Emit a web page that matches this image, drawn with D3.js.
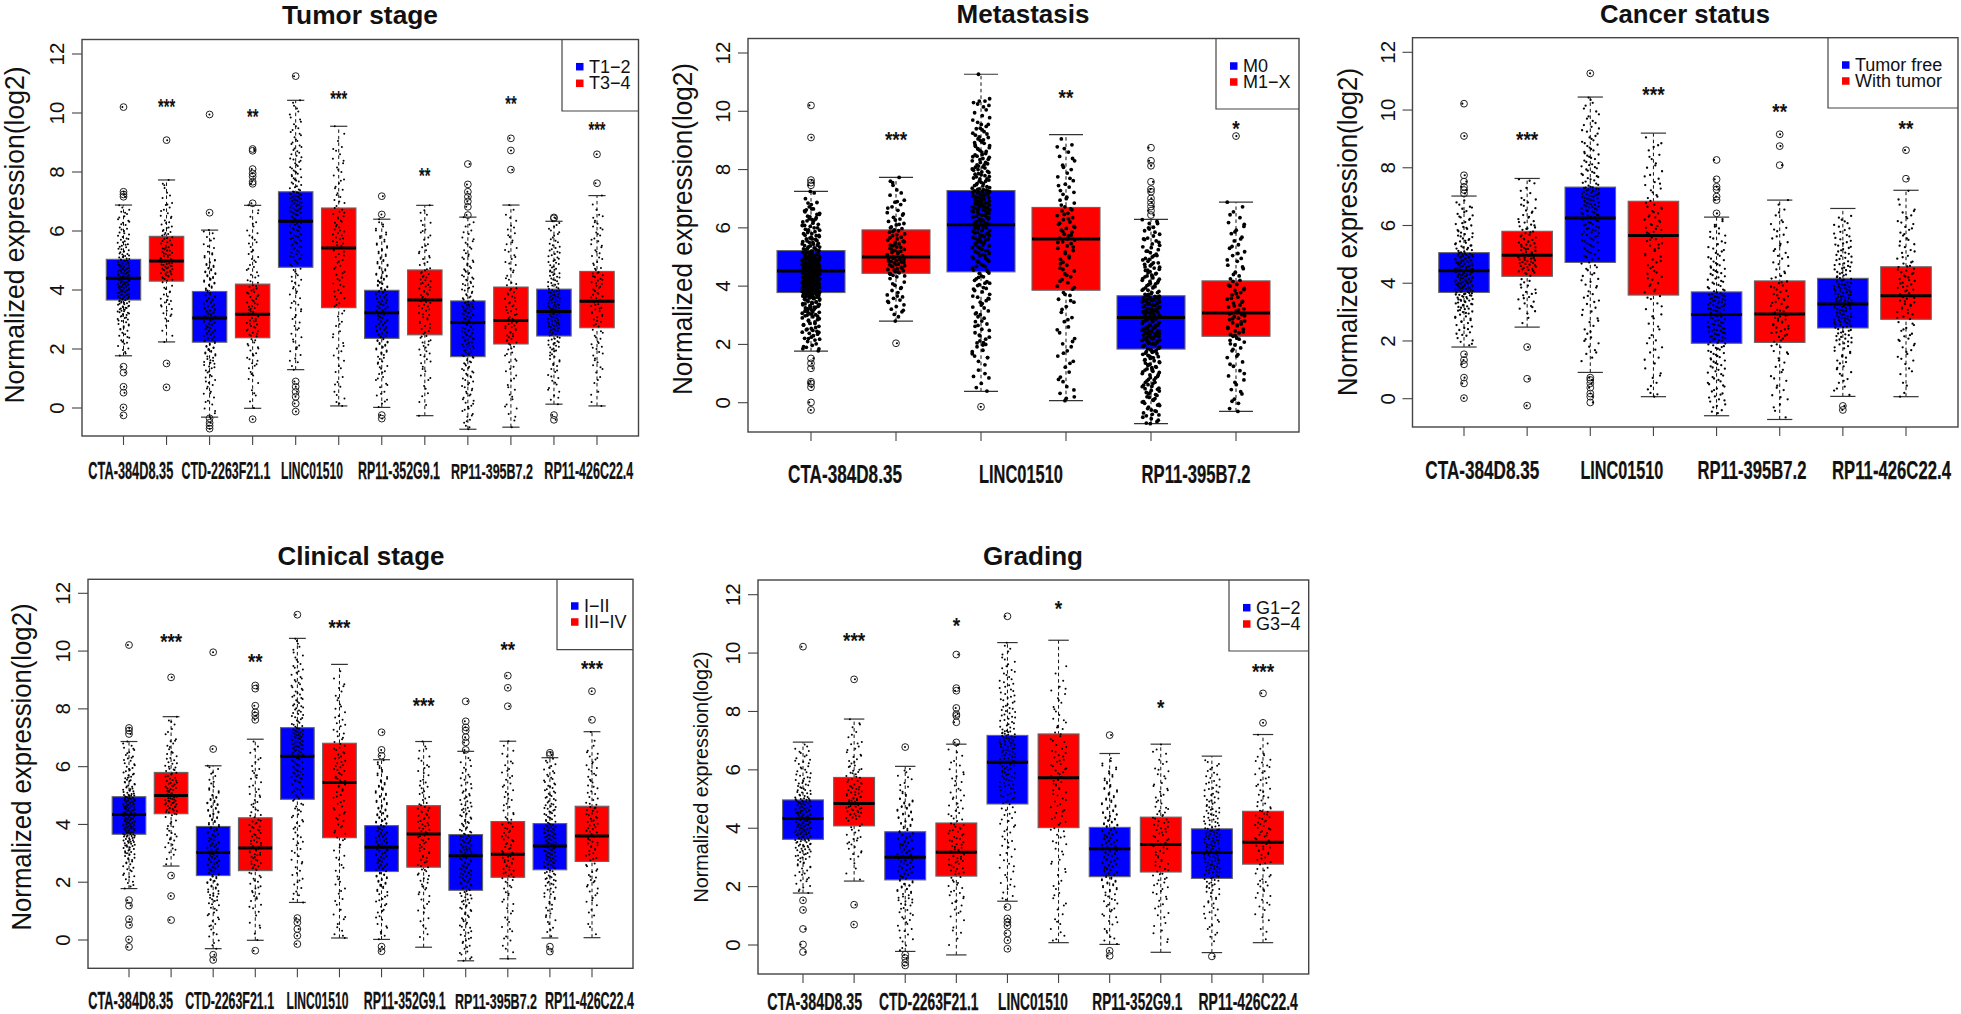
<!DOCTYPE html>
<html><head><meta charset="utf-8">
<script src="https://cdn.jsdelivr.net/npm/d3@7"></script>
<style>html,body{margin:0;padding:0;background:#fff}svg{display:block}text{font-family:"Liberation Sans",Arial,sans-serif;fill:#111}</style>
</head><body><svg id="c" width="1961" height="1014"></svg>
<script>
// ---------- data ----------
const geneCTA="CTA-384D8.35",geneCTD="CTD-2263F21.1",geneLINC="LINC01510",gene352="RP11-352G9.1",gene395="RP11-395B7.2",gene426="RP11-426C22.4";
const yTicks=[0,2,4,6,8,10,12];
const yTitle="Normalized expression(log2)";

// box rows: [lower whisker, Q1, median, Q3, upper whisker]
const tumorBoxes=[[1.77,3.66,4.4,5.04,6.88],[2.24,4.3,4.98,5.82,7.73],[-.31,2.23,3.05,3.95,6.03],[-.01,2.38,3.18,4.2,6.87],[1.3,4.77,6.33,7.33,10.43],[.07,3.4,5.42,6.78,9.55],[.02,2.36,3.23,3.99,6.4],[-.26,2.48,3.66,4.68,6.87],[-.72,1.74,2.9,3.63,6.47],[-.65,2.17,2.97,4.1,6.88],[.13,2.44,3.27,4.03,6.33],[.07,2.72,3.62,4.63,7.2]];
const metastasisBoxes=[[1.77,3.78,4.52,5.22,7.25],[2.8,4.44,5.0,5.93,7.73],[.39,4.49,6.11,7.28,11.27],[.07,3.86,5.62,6.7,9.2],[-.72,1.84,2.92,3.67,6.29],[-.3,2.28,3.08,4.18,6.88]];
const cancerBoxes=[[1.79,3.68,4.43,5.06,7.02],[2.48,4.24,4.97,5.8,7.63],[.91,4.72,6.26,7.33,10.45],[.07,3.59,5.65,6.84,9.2],[-.59,1.92,2.92,3.7,6.29],[-.72,1.95,2.93,4.08,6.88],[.08,2.45,3.28,4.17,6.59],[.07,2.75,3.57,4.57,7.22]];
const clinicalBoxes=[[1.78,3.66,4.34,4.96,6.87],[2.56,4.37,5.0,5.8,7.73],[-.3,2.23,3.03,3.93,6.03],[-.01,2.4,3.18,4.23,6.95],[1.3,4.87,6.36,7.35,10.44],[.07,3.54,5.45,6.81,9.54],[.02,2.37,3.21,3.96,6.24],[-.25,2.52,3.67,4.65,6.87],[-.72,1.72,2.92,3.65,6.53],[-.65,2.17,2.97,4.1,6.88],[.07,2.43,3.25,4.03,6.31],[.08,2.72,3.6,4.63,7.21]];
const gradingBoxes=[[1.78,3.62,4.33,4.97,6.95],[2.19,4.08,4.85,5.74,7.74],[-.22,2.23,3.01,3.88,6.12],[-.34,2.36,3.18,4.18,6.88],[1.5,4.83,6.26,7.18,10.36],[.08,4.02,5.73,7.23,10.44],[.02,2.34,3.3,4.03,6.56],[-.25,2.5,3.44,4.38,6.88],[-.26,2.28,3.17,3.98,6.47],[.08,2.77,3.52,4.58,7.21]];

// open-circle outliers per box
const tumorOutliers=[[10.2,7.33,7.24,7.16,1.4,1.2,.72,.52,.02,-.25],[9.08,1.51,.7],[9.95,6.62,-.35,-.5,-.6,-.7],[8.78,8.72,8.1,7.95,7.85,7.67,7.6,6.94,-.38],[11.25,.9,.72,.55,.38,.15,-.12],[],[7.18,6.56,-.24,-.36],[],[8.27,7.58,7.33,7.16,7,6.82,6.54],[9.14,8.73,8.08],[6.46,6.43,-.24,-.4],[8.6,7.62]];
const metastasisOutliers=[[10.2,9.1,7.64,7.55,7.46,1.52,1.35,1.18,.72,.66,.53,.01,-.25],[2.04],[-.14],[],[8.75,8.3,8.13,7.58,7.33,7.24,7.01,6.87,6.73,6.59,6.44],[9.15]];
const cancerOutliers=[[10.22,9.1,7.74,7.52,7.34,7.23,7.11,1.54,1.34,1.19,.73,.53,.02],[1.79,.69,-.24],[11.27,.73,.65,.53,.38,.18,.07,-.13],[],[8.27,7.6,7.34,7.25,7,6.88,6.42],[9.16,8.75,8.09],[-.25,-.39],[8.61,7.62]];
const clinicalOutliers=[[10.21,7.34,7.25,7.13,1.38,1.19,.72,.52,.02,-.24],[9.09,2.23,1.52,.69],[9.96,6.61,-.51,-.69],[8.81,8.7,8.11,7.88,7.77,7.62,-.37],[11.26,.76,.61,.38,.15,-.14],[],[7.19,6.58,6.38,-.23,-.39],[],[8.26,7.57,7.36,7.25,7.02,6.84,6.58],[9.15,8.73,8.09],[6.48,6.41,-.23,-.4],[8.61,7.62]];
const gradingOutliers=[[10.22,1.53,1.2,.55,.02,-.24],[9.1,1.38,.7],[6.78,-.33,-.45,-.6,-.7],[9.95,8.8,8.71,8.12,7.91,7.85,7.63,6.94],[11.26,1.3,.91,.78,.66,.4,.16,-.13],[],[7.19,-.2,-.37],[],[-.39],[8.62,7.61]];

// significance stars: [text, height on the value axis]
const tumorStars=[["***",10.38],["**",10.02],["***",10.64],["**",8.03],["**",10.49],["***",9.59]];
const metastasisStars=[["***",9.19],["**",10.62],["*",9.57]];
const cancerStars=[["***",9.13],["***",10.69],["**",10.09],["**",9.5]];
const clinicalStars=[["***",10.48],["**",9.81],["***",10.97],["***",8.27],["**",10.21],["***",9.55]];
const gradingStars=[["***",10.6],["*",11.1],["*",11.68],["*",8.3],["***",9.53]];

// jittered sample points per gene and group
const ptsCTAlow=[1.78,1.85,1.97,2.02,2.1,2.18,2.21,2.3,2.38,2.45,2.5,2.55,2.62,2.68,2.72,2.8,2.85,2.91,2.95,3.0,3.02,3.05,3.1,3.15,3.18,3.2,3.25,3.28,3.3,3.35,3.4,3.42,3.45,3.5,3.52,3.55,3.58,3.6,3.62,3.65,3.68,3.7,3.72,3.75,3.78,3.8,3.82,3.85,3.88,3.9,3.92,3.95,3.98,4.0,4.02,4.05,4.08,4.1,4.12,4.15,4.18,4.2,4.22,4.25,4.28,4.3,4.32,4.35,4.38,4.4,4.42,4.45,4.48,4.5,4.52,4.55,4.58,4.6,4.62,4.65,4.68,4.7,4.72,4.75,4.78,4.8,4.82,4.85,4.88,4.9,4.92,4.95,4.98,5.0,5.02,5.05,5.1,5.15,5.2,5.22,5.28,5.3,5.35,5.4,5.45,5.5,5.55,5.6,5.65,5.7,5.75,5.8,5.88,5.95,6.0,6.05,6.12,6.2,6.28,6.35,6.4,6.5,6.58,6.65,6.72,6.87];
const ptsCTAhigh=[2.24,2.45,2.62,2.95,3.03,3.12,3.21,3.3,3.36,3.44,3.52,3.58,3.63,3.7,3.78,3.85,3.92,4.03,4.14,4.26,4.32,4.37,4.41,4.46,4.5,4.53,4.57,4.6,4.64,4.67,4.7,4.73,4.76,4.79,4.82,4.85,4.88,4.91,4.94,4.97,5.0,5.04,5.08,5.12,5.15,5.19,5.22,5.26,5.3,5.34,5.38,5.41,5.45,5.5,5.54,5.58,5.62,5.68,5.73,5.79,5.85,5.9,5.93,5.97,6.03,6.1,6.15,6.22,6.3,6.36,6.44,6.52,6.6,6.72,6.8,6.88,6.95,7.12,7.3,7.46,7.6,7.73];
const ptsCTDlow=[-.3,-.18,-.02,.12,.25,.36,.48,.55,.66,.78,.86,.95,1.03,1.12,1.2,1.27,1.35,1.41,1.5,1.56,1.62,1.7,1.75,1.82,1.88,1.93,2.0,2.05,2.1,2.18,2.25,2.29,2.33,2.38,2.42,2.45,2.5,2.53,2.58,2.61,2.65,2.68,2.72,2.75,2.8,2.83,2.87,2.9,2.94,2.98,3.03,3.06,3.1,3.13,3.17,3.2,3.24,3.28,3.31,3.35,3.4,3.43,3.47,3.5,3.55,3.6,3.64,3.68,3.73,3.78,3.83,3.9,3.98,4.05,4.12,4.18,4.25,4.32,4.38,4.44,4.5,4.57,4.63,4.7,4.75,4.82,4.88,4.95,5.02,5.1,5.2,5.3,5.42,5.55,5.68,5.8,5.92,6.03];
const ptsCTDhigh=[0,.22,.42,.6,.85,.98,1.1,1.22,1.35,1.43,1.52,1.6,1.7,1.78,1.86,1.95,2.02,2.12,2.22,2.33,2.42,2.48,2.55,2.6,2.66,2.72,2.78,2.83,2.88,2.93,2.97,3.02,3.06,3.12,3.16,3.22,3.28,3.33,3.39,3.45,3.52,3.58,3.63,3.7,3.76,3.82,3.88,3.93,3.98,4.05,4.1,4.16,4.25,4.33,4.42,4.52,4.6,4.68,4.78,4.85,4.95,5.05,5.12,5.22,5.35,5.46,5.58,5.7,5.78,5.92,6.02,6.15,6.3,6.48,6.7,6.87];
const ptsLINClow=[1.3,1.42,1.55,1.68,1.8,1.92,2.0,2.12,2.25,2.4,2.52,2.65,2.78,2.9,3.02,3.15,3.28,3.4,3.5,3.62,3.72,3.85,3.95,4.05,4.15,4.25,4.35,4.45,4.55,4.68,4.82,4.9,5.0,5.08,5.15,5.22,5.3,5.38,5.45,5.5,5.58,5.64,5.7,5.76,5.82,5.88,5.93,6.0,6.05,6.12,6.18,6.25,6.3,6.36,6.4,6.45,6.5,6.55,6.6,6.64,6.68,6.72,6.76,6.8,6.85,6.88,6.92,6.96,7.0,7.03,7.07,7.1,7.14,7.18,7.22,7.25,7.29,7.32,7.38,7.45,7.52,7.6,7.68,7.75,7.82,7.9,7.98,8.05,8.12,8.2,8.3,8.38,8.46,8.55,8.65,8.75,8.85,8.95,9.05,9.18,9.3,9.42,9.55,9.7,9.85,10.05,10.25,10.43];
const ptsLINChigh=[.07,.2,.32,.55,.72,.88,1.05,1.22,1.42,1.6,1.78,1.92,2.02,2.2,2.4,2.6,2.78,2.92,3.1,3.3,3.45,3.55,3.68,3.78,3.9,4.0,4.12,4.22,4.32,4.42,4.52,4.62,4.72,4.82,4.92,5.02,5.12,5.22,5.3,5.38,5.46,5.52,5.58,5.65,5.72,5.78,5.85,5.92,5.98,6.05,6.12,6.2,6.28,6.35,6.42,6.5,6.58,6.65,6.72,6.85,6.95,7.05,7.15,7.28,7.4,7.5,7.62,7.75,7.88,8.0,8.15,8.3,8.45,8.6,8.72,8.85,9.05,9.3,9.55];
const pts352low=[.03,.15,.28,.42,.55,.7,.82,.95,1.05,1.15,1.25,1.33,1.42,1.5,1.58,1.66,1.74,1.8,1.88,1.95,2.02,2.08,2.14,2.2,2.25,2.3,2.38,2.42,2.46,2.5,2.54,2.58,2.62,2.66,2.7,2.74,2.78,2.82,2.86,2.9,2.94,2.98,3.02,3.06,3.1,3.14,3.18,3.22,3.25,3.29,3.32,3.36,3.4,3.43,3.47,3.5,3.54,3.57,3.6,3.64,3.68,3.72,3.76,3.8,3.84,3.88,3.92,3.96,4.02,4.07,4.12,4.17,4.22,4.27,4.32,4.38,4.43,4.48,4.55,4.62,4.7,4.78,4.86,4.95,5.02,5.1,5.2,5.3,5.38,5.48,5.58,5.7,5.82,5.95,6.08,6.22,6.4];
const pts352high=[-.26,.1,.4,.5,.75,1.02,1.1,1.25,1.4,1.52,1.65,1.75,1.85,1.98,2.05,2.14,2.22,2.3,2.38,2.44,2.52,2.6,2.68,2.78,2.85,2.92,3.0,3.08,3.15,3.22,3.3,3.38,3.44,3.5,3.56,3.62,3.7,3.76,3.82,3.88,3.94,4.0,4.05,4.12,4.18,4.24,4.3,4.36,4.42,4.48,4.54,4.6,4.66,4.74,4.85,4.95,5.05,5.15,5.25,5.35,5.45,5.55,5.7,5.85,5.95,6.05,6.2,6.35,6.55,6.7,6.87];
const pts395low=[-.72,-.6,-.5,-.4,-.3,-.2,-.1,-.02,.08,.18,.25,.35,.42,.5,.6,.7,.8,.9,1.0,1.08,1.16,1.24,1.32,1.4,1.48,1.55,1.62,1.7,1.76,1.82,1.88,1.94,2.0,2.05,2.1,2.15,2.2,2.25,2.3,2.34,2.38,2.42,2.47,2.52,2.57,2.62,2.66,2.72,2.78,2.84,2.88,2.93,2.98,3.02,3.06,3.1,3.14,3.18,3.22,3.26,3.3,3.34,3.38,3.42,3.46,3.5,3.54,3.58,3.62,3.68,3.75,3.82,3.9,3.98,4.05,4.12,4.2,4.28,4.35,4.42,4.5,4.58,4.66,4.75,4.85,4.95,5.05,5.15,5.25,5.35,5.45,5.55,5.65,5.78,5.9,6.02,6.15,6.3,6.47];
const pts395high=[-.65,-.42,-.2,-.02,.12,.3,.45,.62,.78,.92,1.1,1.25,1.4,1.55,1.65,1.78,1.88,1.98,2.08,2.14,2.22,2.28,2.34,2.4,2.46,2.52,2.58,2.64,2.7,2.74,2.8,2.85,2.9,2.95,3.02,3.08,3.15,3.22,3.28,3.35,3.42,3.48,3.55,3.62,3.7,3.78,3.85,3.92,4.0,4.06,4.16,4.25,4.35,4.48,4.6,4.72,4.85,4.95,5.05,5.18,5.3,5.42,5.55,5.68,5.8,5.92,6.05,6.18,6.35,6.55,6.72,6.88];
const pts426low=[.13,.28,.42,.55,.68,.8,.92,1.02,1.12,1.22,1.32,1.42,1.5,1.58,1.66,1.74,1.82,1.88,1.95,2.02,2.08,2.14,2.2,2.26,2.32,2.38,2.46,2.5,2.55,2.6,2.64,2.68,2.72,2.76,2.8,2.84,2.88,2.92,2.96,3.0,3.04,3.08,3.12,3.16,3.2,3.24,3.3,3.33,3.37,3.4,3.44,3.48,3.52,3.56,3.6,3.64,3.68,3.72,3.76,3.8,3.84,3.88,3.92,3.96,4.0,4.06,4.12,4.18,4.24,4.3,4.36,4.42,4.48,4.54,4.6,4.66,4.72,4.8,4.88,4.95,5.02,5.1,5.18,5.26,5.34,5.42,5.52,5.62,5.72,5.84,5.96,6.08,6.2,6.33];
const pts426high=[.07,.45,.55,.85,1.05,1.2,1.32,1.45,1.55,1.68,1.78,1.9,2.0,2.08,2.16,2.25,2.35,2.45,2.55,2.65,2.76,2.84,2.92,3.0,3.08,3.15,3.22,3.28,3.34,3.4,3.46,3.52,3.58,3.66,3.72,3.78,3.84,3.9,3.96,4.02,4.08,4.14,4.2,4.26,4.32,4.38,4.44,4.5,4.56,4.6,4.68,4.75,4.85,4.95,5.05,5.15,5.25,5.35,5.45,5.55,5.65,5.75,5.85,5.95,6.05,6.15,6.25,6.35,6.45,6.55,6.72,7.2];

// further points of the same groups, read where the columns are denser
const moreCTAlow=[1.9,2.25,2.41,2.66,2.77,2.83,2.97,3.07,3.12,3.23,3.27,3.33,3.37,3.39,3.44,3.47,3.53,3.57,3.61,3.64,3.66,3.71,3.73,3.77,3.79,3.83,3.84,3.87,3.91,3.93,3.96,3.99,4.01,4.04,4.06,4.09,4.11,4.13,4.17,4.19,4.21,4.24,4.27,4.29,4.31,4.34,4.37,4.39,4.43,4.44,4.47,4.49,4.53,4.56,4.59,4.61,4.64,4.67,4.69,4.71,4.74,4.77,4.79,4.83,4.86,4.89,4.91,4.94,4.97,4.99,5.03,5.07,5.12,5.17,5.24,5.31,5.38,5.47,5.53,5.62,5.73,5.84,5.92,6.08,6.23,6.31,6.46,6.62,6.8];
const moreCTAhigh=[2.8,3.17,3.48,3.66,3.95,4.08,4.35,4.43,4.48,4.55,4.62,4.69,4.74,4.81,4.86,4.9,4.96,5.02,5.07,5.17,5.24,5.33,5.43,5.52,5.66,5.76,5.88,6.0,6.12,6.27,6.48,6.68,6.9,7.2,7.55];
const moreCTDlow=[-.1,.2,.5,.72,.9,1.08,1.24,1.38,1.46,1.53,1.6,1.66,1.78,1.85,1.91,1.97,2.03,2.08,2.14,2.2,2.27,2.31,2.36,2.4,2.44,2.48,2.52,2.56,2.6,2.63,2.67,2.7,2.74,2.78,2.82,2.85,2.89,2.92,2.96,3.0,3.04,3.08,3.11,3.15,3.19,3.22,3.26,3.3,3.33,3.37,3.42,3.45,3.49,3.53,3.57,3.62,3.66,3.71,3.76,3.81,3.86,3.93,4.0,4.08,4.15,4.22,4.28,4.35,4.41,4.47,4.54,4.6,4.67,4.73,4.78,4.85,4.92,5.0,5.15,5.25,5.48,5.75,5.98];
const moreCTDhigh=[.5,1.15,1.48,1.65,1.82,2.06,2.17,2.3,2.45,2.52,2.63,2.75,2.86,2.95,3.04,3.1,3.2,3.26,3.36,3.43,3.55,3.66,3.79,3.91,4.02,4.13,4.3,4.48,4.72,5.0,5.3,5.62,5.85,6.25,6.6];
const moreLINClow=[1.6,2.06,2.32,2.7,3.08,3.35,3.56,3.9,4.1,4.3,4.5,4.62,4.72,4.86,4.95,5.04,5.12,5.19,5.26,5.34,5.42,5.48,5.54,5.61,5.67,5.73,5.79,5.85,5.91,5.97,6.03,6.09,6.15,6.21,6.28,6.34,6.38,6.43,6.48,6.53,6.58,6.62,6.66,6.7,6.74,6.78,6.83,6.87,6.9,6.94,6.98,7.02,7.05,7.09,7.12,7.16,7.2,7.24,7.27,7.31,7.34,7.41,7.48,7.56,7.64,7.71,7.79,7.86,7.94,8.02,8.09,8.16,8.25,8.34,8.42,8.5,8.6,8.7,8.8,8.9,9.0,9.1,9.25,9.36,9.48,9.62,9.78,9.95,10.15,10.35];
const moreLINChigh=[.15,.44,.8,1.35,1.7,2.1,2.5,2.85,3.2,3.5,3.72,3.95,4.17,4.37,4.57,4.77,4.97,5.17,5.34,5.5,5.62,5.75,5.88,6.02,6.16,6.31,6.46,6.62,6.78,7.0,7.22,7.45,7.7,8.08,8.38,8.78];
const more352low=[.22,.48,.78,1.0,1.2,1.38,1.54,1.7,1.84,1.91,1.98,2.05,2.11,2.17,2.22,2.27,2.33,2.4,2.44,2.48,2.52,2.56,2.6,2.64,2.68,2.72,2.76,2.8,2.84,2.88,2.92,2.96,3.0,3.04,3.08,3.12,3.16,3.2,3.23,3.27,3.3,3.34,3.38,3.41,3.45,3.48,3.52,3.55,3.59,3.62,3.66,3.7,3.74,3.78,3.82,3.86,3.9,3.94,3.98,4.04,4.09,4.14,4.2,4.25,4.3,4.35,4.4,4.46,4.52,4.58,4.66,4.74,4.82,4.9,4.98,5.06,5.15,5.25,5.34,5.43,5.53,5.64,5.76,5.88,6.02,6.15,6.3];
const more352high=[.2,.65,.95,1.32,1.58,1.8,1.92,2.1,2.26,2.42,2.56,2.72,2.88,3.04,3.18,3.34,3.47,3.59,3.73,3.85,3.97,4.09,4.21,4.33,4.45,4.57,4.7,4.9,5.1,5.3,5.5,5.78,6.0,6.28,6.62];
const more395low=[-.65,-.45,-.25,-.06,.04,.14,.3,.46,.55,.65,.75,.85,.95,1.04,1.12,1.2,1.28,1.36,1.44,1.52,1.58,1.66,1.73,1.79,1.85,1.91,1.97,2.03,2.07,2.12,2.17,2.22,2.27,2.32,2.36,2.4,2.44,2.49,2.54,2.59,2.64,2.69,2.75,2.81,2.86,2.9,2.95,3.0,3.04,3.08,3.12,3.16,3.2,3.24,3.28,3.32,3.36,3.4,3.44,3.48,3.52,3.56,3.6,3.65,3.72,3.78,3.86,3.94,4.02,4.08,4.16,4.24,4.32,4.38,4.46,4.54,4.62,4.7,4.8,4.9,5.0,5.1,5.2,5.4,5.6,5.72,5.96,6.22];
const more395high=[-.3,.05,.38,.7,1.0,1.32,1.6,1.83,2.02,2.18,2.3,2.43,2.55,2.67,2.77,2.88,2.98,3.05,3.18,3.32,3.45,3.58,3.74,3.88,4.03,4.2,4.4,4.66,4.9,5.12,5.36,5.62,5.86,6.12,6.45];
const more426low=[.35,.62,.86,1.07,1.27,1.46,1.62,1.78,1.92,1.98,2.05,2.11,2.17,2.23,2.29,2.35,2.41,2.48,2.52,2.57,2.62,2.66,2.7,2.74,2.78,2.82,2.86,2.9,2.94,2.98,3.02,3.06,3.1,3.14,3.18,3.22,3.26,3.31,3.35,3.38,3.42,3.46,3.5,3.54,3.58,3.62,3.66,3.7,3.74,3.78,3.82,3.86,3.9,3.94,3.98,4.03,4.09,4.15,4.21,4.27,4.33,4.39,4.45,4.51,4.57,4.63,4.69,4.76,4.84,4.92,4.98,5.06,5.14,5.22,5.3,5.38,5.47,5.57,5.67,5.78,5.9,6.02,6.14,6.27];
const more426high=[.2,.95,1.38,1.62,1.85,2.04,2.2,2.4,2.6,2.8,2.96,3.12,3.25,3.37,3.49,3.62,3.75,3.87,3.99,4.11,4.23,4.35,4.47,4.58,4.72,4.9,5.1,5.3,5.5,5.7,5.9,6.1,6.3,6.5,6.9];

// the M0 columns of the Metastasis panel hold the most points
const m0CTA=[1.85,1.92,2.15,2.2,2.35,2.42,2.48,2.52,2.58,2.72,2.88,2.98,3.04,3.09,3.14,3.21,3.26,3.31,3.36,3.41,3.46,3.51,3.56,3.6,3.63,3.67,3.7,3.74,3.77,3.81,3.84,3.86,3.89,3.92,3.94,3.97,4.0,4.03,4.05,4.08,4.11,4.13,4.16,4.19,4.22,4.24,4.27,4.3,4.33,4.36,4.39,4.41,4.44,4.46,4.49,4.51,4.54,4.57,4.6,4.63,4.66,4.69,4.72,4.75,4.78,4.81,4.84,4.87,4.9,4.93,4.96,4.99,5.02,5.05,5.08,5.12,5.16,5.2,5.25,5.3,5.34,5.39,5.44,5.5,5.56,5.62,5.68,5.74,5.8,5.87,5.93,6.0,6.08,6.16,6.24,6.3,6.38,6.46,6.55,6.65,6.85,7.0,7.2,7.25];
const m0LINC=[.4,.52,.66,.85,.9,1.0,1.12,1.55,1.75,1.98,2.05,2.18,2.3,2.48,2.62,2.8,2.95,3.05,3.25,3.45,3.58,3.66,3.8,3.92,4.02,4.1,4.2,4.32,4.44,4.55,4.68,4.75,4.85,4.95,5.05,5.14,5.23,5.32,5.41,5.5,5.58,5.66,5.74,5.82,5.9,5.98,6.06,6.14,6.22,6.3,6.38,6.44,6.5,6.56,6.62,6.68,6.74,6.8,6.86,6.92,6.98,7.04,7.1,7.16,7.22,7.28,7.36,7.44,7.52,7.6,7.68,7.76,7.84,7.92,8.0,8.08,8.16,8.24,8.35,8.44,8.52,8.62,8.72,8.82,8.92,9.02,9.12,9.22,9.4,9.55,10.2,10.3,10.35,11.27];
const m0395=[-.7,-.55,-.42,-.35,-.28,-.15,-.08,.02,.1,.2,.28,.34,.4,.48,.56,.62,.7,.78,.86,.96,1.06,1.14,1.22,1.3,1.38,1.46,1.54,1.6,1.68,1.75,1.81,1.87,1.93,1.99,2.04,2.09,2.14,2.19,2.24,2.29,2.33,2.37,2.41,2.46,2.51,2.56,2.61,2.66,2.71,2.77,2.83,2.88,2.93,2.98,3.02,3.06,3.1,3.14,3.18,3.22,3.26,3.3,3.34,3.38,3.42,3.46,3.5,3.54,3.58,3.62,3.66,3.72,3.78,3.86,3.94,4.0,4.1,4.18,4.26,4.34,4.44,4.55,4.65,4.75,4.8,4.92,5.05,5.2,5.32,5.5,5.62,5.85,6.0,6.15,6.28];

// ---------- layout ----------
const jitterPattern=[-.62,.35,-.08,.81,-.91,.14,.58,-.37,.96,-.71,.27,-.19,.66,-.52,.03,.88,-.83,.44,-.28,.73,-.97,.21,-.44,.52,-.12,.92,-.66,.09,-.33];
const CTAa=ptsCTAlow.concat(moreCTAlow),CTAb=ptsCTAhigh.concat(moreCTAhigh),CTDa=ptsCTDlow.concat(moreCTDlow),CTDb=ptsCTDhigh.concat(moreCTDhigh),LINCa=ptsLINClow.concat(moreLINClow),LINCb=ptsLINChigh.concat(moreLINChigh),a352=pts352low.concat(more352low),b352=pts352high.concat(more352high),a395=pts395low.concat(more395low),b395=pts395high.concat(more395high),a426=pts426low.concat(more426low),b426=pts426high.concat(more426high);
const fullSet=[CTAa,CTAb,CTDa,CTDb,LINCa,LINCb,a352,b352,a395,b395,a426,b426];

const panels=[
 {title:"Tumor stage",titleX:360,titleY:15,titleW:156,boxes:tumorBoxes,outliers:tumorOutliers,stars:tumorStars,pts:fullSet,starStep:5.7,
  genes:[geneCTA,geneCTD,geneLINC,gene352,gene395,gene426],genePos:[1.17,3.38,5.38,7.4,9.56,11.81],geneW:[85,89,62,82,82,89],geneY:470.5,geneFont:23,
  frame:[82,638.5,39.5,436],tick1:123.5,tickN:597,y0:408,y12:54,jitter:6,r:1,
  axisX:56,titleAxisX:15,titleAxisY:235,titleAxisLen:337,titleAxisFont:27,
  legend:{x:562,b:111,sx:576,ys:[66.7,83.3],tx:589,labels:["T1−2","T3−4"]}},
 {title:"Metastasis",titleX:1023,titleY:14,titleW:133,boxes:metastasisBoxes,outliers:metastasisOutliers,stars:metastasisStars,starStep:7.4,pts:[CTAa.concat(m0CTA),CTAb,LINCa.concat(m0LINC),LINCb,a395.concat(m0395),b395],
  genes:[geneCTA,geneLINC,gene395],genePos:[1.4,3.47,5.53],geneW:[114,84,109],geneY:474,geneFont:26,
  frame:[748,1299,38.5,432],tick1:811,tickN:1236,y0:402.7,y12:53,jitter:9,r:1.9,
  axisX:722.5,titleAxisX:683,titleAxisY:229,titleAxisLen:332,titleAxisFont:27,
  legend:{x:1216,b:109,sx:1230,ys:[66,82],tx:1243,labels:["M0","M1−X"]}},
 {title:"Cancer status",titleX:1685,titleY:14,titleW:170,boxes:cancerBoxes,outliers:cancerOutliers,stars:cancerStars,starStep:7.4,pts:[CTAa,CTAb,LINCa,LINCb,a395,b395,a426,b426],
  genes:[geneCTA,geneLINC,gene395,gene426],genePos:[1.29,3.5,5.56,7.77],geneW:[114,83,109,119],geneY:470,geneFont:26,
  frame:[1412.5,1958,37.7,427],tick1:1464,tickN:1906,y0:398.7,y12:52.3,jitter:9,r:1.15,
  axisX:1387.7,titleAxisX:1347.5,titleAxisY:232,titleAxisLen:328,titleAxisFont:27,
  legend:{x:1828,b:108,sx:1842,ys:[65,81],tx:1855,labels:["Tumor free","With tumor"]}},
 {title:"Clinical stage",titleX:361,titleY:555.7,titleW:167,boxes:clinicalBoxes,outliers:clinicalOutliers,stars:clinicalStars,starStep:7.3,pts:fullSet,
  genes:[geneCTA,geneCTD,geneLINC,gene352,gene395,gene426],genePos:[1.04,3.39,5.48,7.55,9.72,11.94],geneW:[85,89,62,82,82,89],geneY:1000.7,geneFont:23,
  frame:[88,633,579.3,968.3],tick1:129,tickN:592,y0:940,y12:593.3,jitter:6,r:1,
  axisX:62,titleAxisX:21.5,titleAxisY:767,titleAxisLen:327,titleAxisFont:27,
  legend:{x:557,b:649.7,sx:571,ys:[606,622],tx:584,labels:["I−II","III−IV"]}},
 {title:"Grading",titleX:1033,titleY:555.7,titleW:100,boxes:gradingBoxes,outliers:gradingOutliers,stars:gradingStars,starStep:7.4,pts:[CTAa,CTAb,CTDa,CTDb,LINCa,LINCb,a352,b352,a426,b426],
  genes:[geneCTA,geneCTD,geneLINC,gene352,gene426],genePos:[1.23,3.46,5.5,7.54,9.71],geneW:[95,99.5,70,90,99.5],geneY:1002,geneFont:23,
  frame:[758,1308.7,580,974],tick1:803,tickN:1263,y0:945,y12:594.7,jitter:8,r:1,
  axisX:732,titleAxisX:700.6,titleAxisY:777,titleAxisLen:251,titleAxisFont:20,
  legend:{x:1229,b:651,sx:1243,ys:[607.7,624],tx:1256,labels:["G1−2","G3−4"]}}
];

const svg=d3.select("#c");
const ink="#444";
panels.forEach((p,pi)=>{
  const n=p.boxes.length;
  const x=d3.scaleLinear().domain([1,n]).range([p.tick1,p.tickN]);
  const y=d3.scaleLinear().domain([0,12]).range([p.y0,p.y12]);
  const g=svg.append("g");
  const [L,R,T,B]=p.frame;
  const unit=x(2)-x(1);

  // title
  g.append("text").attr("x",p.titleX).attr("y",p.titleY).attr("text-anchor","middle").attr("dominant-baseline","central")
    .attr("font-weight","700").attr("font-size",26).attr("textLength",p.titleW).attr("lengthAdjust","spacingAndGlyphs").text(p.title);

  // boxes
  const box=g.selectAll("g.b").data(p.boxes).join("g").attr("class","b");
  box.append("line").attr("x1",(d,i)=>x(i+1)).attr("x2",(d,i)=>x(i+1)).attr("y1",d=>y(d[0])).attr("y2",d=>y(d[4]))
    .attr("stroke","#111").attr("stroke-width",1).attr("stroke-dasharray","3.5,3");
  [0,4].forEach(k=>box.append("line").attr("x1",(d,i)=>x(i+1)-unit*.2).attr("x2",(d,i)=>x(i+1)+unit*.2).attr("y1",d=>y(d[k])).attr("y2",d=>y(d[k])).attr("stroke","#333").attr("stroke-width",1.2));
  box.append("rect").attr("x",(d,i)=>x(i+1)-unit*.4).attr("width",unit*.8).attr("y",d=>y(d[3])).attr("height",d=>y(d[1])-y(d[3]))
    .attr("fill",(d,i)=>i%2?"#ff0000":"#0000ff").attr("stroke","#666").attr("stroke-width",1.1);
  box.append("line").attr("x1",(d,i)=>x(i+1)-unit*.4).attr("x2",(d,i)=>x(i+1)+unit*.4).attr("y1",d=>y(d[2])).attr("y2",d=>y(d[2])).attr("stroke","#000").attr("stroke-width",3);

  // outliers
  p.outliers.forEach((vals,i)=>{
    g.selectAll(null).data(vals).join("circle").attr("cx",x(i+1)).attr("cy",d=>y(d)).attr("r",3.4).attr("fill","none").attr("stroke","#222").attr("stroke-width",1);
    g.selectAll(null).data(vals).join("circle").attr("cx",(d,k)=>x(i+1)+jitterPattern[(k*5+i)%29]*p.jitter*.3).attr("cy",d=>y(d)).attr("r",Math.min(p.r,1.1)).attr("fill","#000");
  });

  // jittered points (only those inside the whiskers of this panel's box)
  p.pts.forEach((vals,i)=>{
    const b=p.boxes[i];
    const inside=vals.filter(v=>v>=b[0]&&v<=b[4]);
    g.selectAll(null).data(inside).join("circle")
      .attr("cx",(d,k)=>x(i+1)+jitterPattern[(k+i*7+pi*3)%29]*p.jitter)
      .attr("cy",d=>y(d)).attr("r",p.r).attr("fill","#000");
  });

  // stars
  g.selectAll(null).data(p.stars).join("text").attr("x",(d,i)=>x(2*i+2)).attr("y",d=>y(d[1])+12)
    .attr("text-anchor","middle").attr("font-size",22).attr("font-weight","700").attr("fill","#000")
    .attr("textLength",d=>d[0].length*p.starStep).attr("lengthAdjust","spacingAndGlyphs").text(d=>d[0]);

  // frame
  g.append("rect").attr("x",L).attr("y",T).attr("width",R-L).attr("height",B-T).attr("fill","none").attr("stroke",ink).attr("stroke-width",1.4);

  // value axis
  g.selectAll(null).data(yTicks).join("line").attr("x1",L-10).attr("x2",L).attr("y1",d=>y(d)).attr("y2",d=>y(d)).attr("stroke",ink).attr("stroke-width",1.1);
  g.selectAll(null).data(yTicks).join("text").attr("transform",d=>`translate(${p.axisX},${y(d)}) rotate(-90)`)
    .attr("text-anchor","middle").attr("dominant-baseline","central").attr("font-size",20.5).attr("fill","#333").text(d=>d);
  g.append("text").attr("transform",`translate(${p.titleAxisX},${p.titleAxisY}) rotate(-90)`).attr("text-anchor","middle").attr("dominant-baseline","central")
    .attr("font-size",p.titleAxisFont).attr("textLength",p.titleAxisLen).attr("lengthAdjust","spacingAndGlyphs").attr("fill","#222").text(yTitle);

  // category axis
  g.selectAll(null).data(d3.range(1,n+1)).join("line").attr("x1",d=>x(d)).attr("x2",d=>x(d)).attr("y1",B).attr("y2",B+9).attr("stroke",ink).attr("stroke-width",1.1);
  g.selectAll(null).data(p.genes).join("text").attr("text-anchor","middle").attr("dominant-baseline","central")
    .attr("font-weight","700").attr("font-size",p.geneFont).attr("stroke","#111").attr("stroke-width",.25).text(d=>d)
    .attr("transform",function(d,i){const k=p.geneW[i]/this.getComputedTextLength();return `translate(${x(p.genePos[i])},${p.geneY}) scale(${k},1)`;});

  // legend
  const lg=p.legend;
  g.append("path").attr("d",`M${lg.x},${T}V${lg.b}H${R}`).attr("fill","none").attr("stroke",ink).attr("stroke-width",1.2);
  lg.labels.forEach((t,i)=>{
    g.append("rect").attr("x",lg.sx).attr("y",lg.ys[i]-3.75).attr("width",7.5).attr("height",7.5).attr("fill",i?"#ff0000":"#0000ff");
    g.append("text").attr("x",lg.tx).attr("y",lg.ys[i]).attr("dominant-baseline","central").attr("font-size",18).attr("fill","#222").text(t);
  });
});
</script></body></html>
